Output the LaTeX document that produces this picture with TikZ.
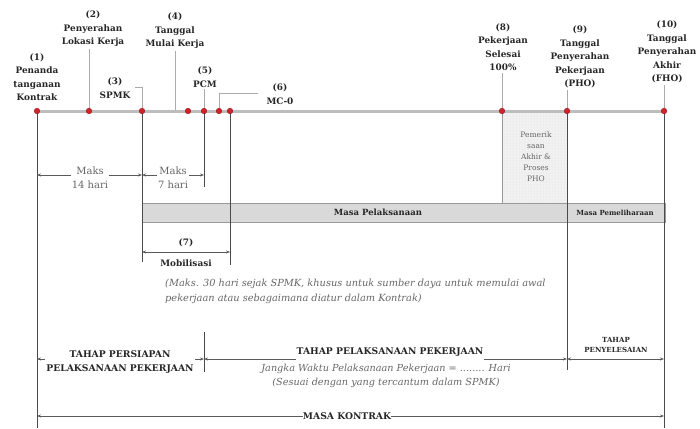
\documentclass[tikz,border=0pt]{standalone}
\usepackage{fontspec}
\setmainfont{DejaVu Serif}
\usetikzlibrary{arrows.meta,patterns}
\definecolor{tline}{HTML}{BDBDBD}
\definecolor{dotred}{HTML}{D2232A}
\definecolor{vline}{HTML}{4A4A4A}
\definecolor{lead}{HTML}{ABABAB}
\definecolor{barfill}{HTML}{D9D9D9}
\definecolor{barline}{HTML}{9A9A9A}
\definecolor{txtgray}{HTML}{666666}
\definecolor{ink}{HTML}{262626}
\definecolor{arrgray}{HTML}{5A5A5A}
\definecolor{boxfill}{HTML}{F1F1F1}

\begin{document}
\begin{tikzpicture}[x=1pt,y=-1pt,
  >={Stealth[length=4pt,width=3pt]},
  lbl/.style={font=\bfseries\fontsize{8.9}{13.5}\selectfont, align=center, inner sep=0pt, text=ink},
  capt/.style={font=\bfseries\fontsize{9.2}{14}\selectfont, align=center, inner sep=1.5pt, text=ink, fill=white},
  smallcapt/.style={font=\bfseries\fontsize{7}{10}\selectfont, align=center, inner sep=0pt, text=ink},
  dimtxt/.style={font=\fontsize{10}{14}\selectfont, align=center, text=txtgray, fill=white, inner sep=1pt},
  notetxt/.style={font=\itshape\fontsize{9.8}{15}\selectfont, text=txtgray, inner sep=0pt},
  boxtxt/.style={font=\fontsize{7.5}{11}\selectfont, align=center, text=txtgray, inner sep=0pt},
  vl/.style={draw=vline, line width=0.9pt},
  vlight/.style={draw=barline, line width=0.7pt},
  ld/.style={draw=lead, line width=0.6pt},
  dim/.style={draw=arrgray, line width=0.7pt},
  barsty/.style={fill=barfill, draw=barline, line width=0.6pt}
]
\useasboundingbox (0,0) rectangle (700,428);

% points on the time axis
\coordinate (p1) at (37,111);
\coordinate (p2) at (89,111);
\coordinate (p3) at (142,111);
\coordinate (p4) at (188,111);
\coordinate (p5) at (204,111);
\coordinate (p6) at (219,111);
\coordinate (p7) at (230,111);
\coordinate (p8) at (502,111);
\coordinate (p9) at (567,111);
\coordinate (p10) at (664,111);

% final inspection period
\fill[boxfill] (p8) rectangle (567,204);
\fill[pattern=dots, pattern color=gray!30] (p8) rectangle (567,204);
\node[boxtxt] (pk) at (536,157) {Pemerik\\saan\\Akhir \&\\Proses\\PHO};

% period bars
\draw[barsty] (142,203) rectangle (567,222);
\draw[barsty] (567,203) rectangle (665,222);
\node[font=\bfseries\fontsize{8.5}{10}\selectfont, text=ink] (mpl) at (378,212.5) {Masa Pelaksanaan};
\node[font=\bfseries\fontsize{7}{10}\selectfont, text=ink] (mpm) at (615,212.5) {Masa Pemeliharaan};

% vertical guides below the axis
\draw[vl] (p1) -- ++(0,317);
\draw[vl] (p3) -- ++(0,151);
\draw[vl] (p5) -- ++(0,76);
\draw[vl] (p7) -- ++(0,154);
\draw[vlight] (p8) -- ++(0,92);
\draw[vl] (p9) -- ++(0,259);
\draw[vl] (p10) -- ++(0,317);

% labels above the axis
\node[lbl] (l1) at (37,77) {(1)\\Penanda\\tanganan\\Kontrak};
\node[lbl] (l2) at (93,29) {(2)\\Penyerahan\\Lokasi Kerja};
\node[lbl] (l3) at (115,88) {(3)\\SPMK};
\node[lbl] (l4) at (175,31) {(4)\\Tanggal\\Mulai Kerja};
\node[lbl] (l5) at (205,77) {(5)\\PCM};
\node[lbl] (l6) at (280,94) {(6)\\MC-0};
\node[lbl] (l8) at (503,47) {(8)\\Pekerjaan\\Selesai\\100\%};
\node[lbl] (l9) at (580,57) {(9)\\Tanggal\\Penyerahan\\Pekerjaan\\(PHO)};
\node[lbl] (l10) at (667,52) {(10)\\Tanggal\\Penyerahan\\Akhir\\(FHO)};

% leader lines
\coordinate (k3) at (142,87);
\coordinate (k6) at (219,93);
\draw[ld] (l2.south -| p2) ++(0,2) -- (p2);
\draw[ld] ([xshift=-7pt]k3) -- (k3) -- (p3);
\draw[ld] (l4.south) ++(0,2) -- (l4.south |- p1);
\draw[ld] (l5.south -| p5) ++(0,2) -- (p5);
\draw[ld] ([xshift=39pt]k6) -- (k6) -- (p6);
\draw[ld] (l8.south -| p8) ++(0,2) -- (p8);
\draw[ld] (l9.south -| p9) ++(0,2) -- (p9);
\draw[ld] (l10.south -| p10) ++(0,2) -- (p10);

% time axis with milestones
\draw[tline, line width=3pt] (p1) -- (666,111);
\foreach \n in {1,...,10}
  \filldraw[fill=dotred, draw=dotred!70!black, line width=0.4pt] (p\n) circle (2.8);

% maximum durations
\coordinate (d1) at (37,175);
\coordinate (d2) at (142,175);
\coordinate (d3) at (204,175);
\draw[dim, <->] (d1) -- (d2);
\draw[dim, <->] (d2) -- (d3);
\node[dimtxt] (m14) at (90,178) {Maks\\14 hari};
\node[dimtxt] (m7) at (173,178) {Maks\\7 hari};

% mobilisation
\coordinate (m1) at (142,252);
\coordinate (m2) at (230,252);
\draw[dim, <->] (m1) -- (m2);
\node[lbl] (n7) at (186,243) {(7)};
\node[lbl] (mob) at (186,263) {Mobilisasi};
\node[notetxt, anchor=north west, align=left] (note) at (165,279)
  {(Maks. 30 hari sejak SPMK, khusus untuk sumber daya untuk memulai awal\\
   pekerjaan atau sebagaimana diatur dalam Kontrak)};

% project stages
\coordinate (b1) at (37,359);
\coordinate (b2) at (204,359);
\coordinate (b3) at (567,359);
\coordinate (b4) at (664,359);
\draw[vl] (204,332) -- (204,372);
\draw[dim, <->] (b1) -- (b2);
\node[capt] (tp) at (120,362) {TAHAP PERSIAPAN\\PELAKSANAAN PEKERJAAN};
\node[capt, fill=none, inner sep=0pt] (tpk) at (390,352) {TAHAP PELAKSANAAN PEKERJAAN};
\draw[dim, <-] (b2) -- (tpk.west |- b2);
\draw[dim, ->] (tpk.east |- b2) -- (b3);
\node[notetxt, align=center, font=\itshape\fontsize{9.7}{14}\selectfont] (jw) at (386,376)
  {Jangka Waktu Pelaksanaan Pekerjaan = ........ Hari\\(Sesuai dengan yang tercantum dalam SPMK)};
\draw[dim, <->] (b3) -- (b4);
\node[smallcapt] (tps) at (616,345) {TAHAP\\PENYELESAIAN};

% contract period
\coordinate (c1) at (37,416);
\coordinate (c2) at (664,416);
\node[capt, fill=none, inner sep=0pt] (mk) at (347,416) {MASA KONTRAK};
\draw[dim, <-] (c1) -- (mk.west);
\draw[dim, ->] (mk.east) -- (c2);
\end{tikzpicture}
\end{document}
